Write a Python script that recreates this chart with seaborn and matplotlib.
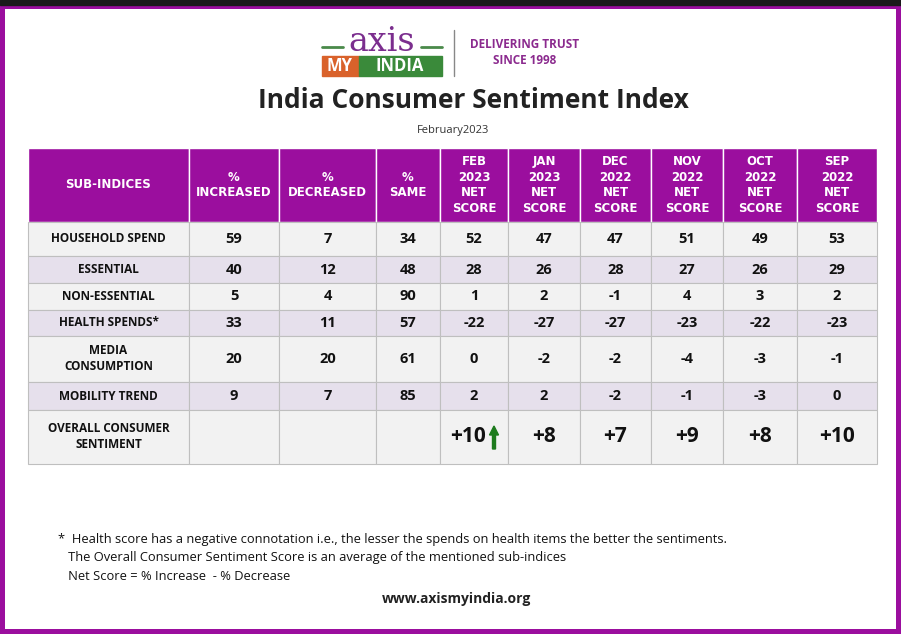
import matplotlib
matplotlib.use("Agg")
import matplotlib.pyplot as plt
import seaborn as sns
from matplotlib.patches import Rectangle, FancyArrow

sns.set_style("white")
plt.rcParams['font.family'] = ['Open Sans', 'DejaVu Sans']

headers = ["SUB-INDICES", "%\nINCREASED", "%\nDECREASED", "%\nSAME",
           "FEB\n2023\nNET\nSCORE", "JAN\n2023\nNET\nSCORE", "DEC\n2022\nNET\nSCORE",
           "NOV\n2022\nNET\nSCORE", "OCT\n2022\nNET\nSCORE", "SEP\n2022\nNET\nSCORE"]
sub_indices = ["HOUSEHOLD SPEND", "ESSENTIAL", "NON-ESSENTIAL", "HEALTH SPENDS*",
               "MEDIA\nCONSUMPTION", "MOBILITY TREND", "OVERALL CONSUMER\nSENTIMENT"]
increased = [59, 40, 5, 33, 20, 9, None]
decreased = [7, 12, 4, 11, 20, 7, None]
same = [34, 48, 90, 57, 61, 85, None]
feb23 = [52, 28, 1, -22, 0, 2, "+10"]
jan23 = [47, 26, 2, -27, -2, 2, "+8"]
dec22 = [47, 28, -1, -27, -2, -2, "+7"]
nov22 = [51, 27, 4, -23, -4, -1, "+9"]
oct22 = [49, 26, 3, -22, -3, -3, "+8"]
sep22 = [53, 29, 2, -23, -1, 0, "+10"]
columns = [increased, decreased, same, feb23, jan23, dec22, nov22, oct22, sep22]

W, H = 901, 634
fig = plt.figure(figsize=(W/100, H/100), dpi=100)
ax = fig.add_axes([0, 0, 1, 1])
ax.set_xlim(0, W); ax.set_ylim(H, 0); ax.axis("off")

PURPLE = "#9B0E9E"
# frame
ax.add_patch(Rectangle((0, 0), W, H, color=PURPLE))
ax.add_patch(Rectangle((0, 0), W, 5, color="#1a1a1a"))
ax.add_patch(Rectangle((5, 9), W-10, H-14, facecolor="white", edgecolor="none"))

# logo
ax.text(382, 42, "axis", ha="center", va="center", fontsize=24, color="#7B2E8E", family="DejaVu Serif")
ax.plot([322, 343], [47, 47], color="#4a8a4a", lw=2)
ax.plot([421, 442], [47, 47], color="#4a8a4a", lw=2)
ax.add_patch(Rectangle((322, 56), 37, 20, color="#D9622B"))
ax.add_patch(Rectangle((359, 56), 83, 20, color="#3A8A3A"))
ax.text(340, 66, "MY", ha="center", va="center", fontsize=12, color="white", weight="bold")
ax.text(400, 66, "INDIA", ha="center", va="center", fontsize=12, color="white", weight="bold")
ax.plot([454, 454], [30, 76], color="#888888", lw=1)
ax.text(525, 44, "DELIVERING TRUST", ha="center", va="center", fontsize=8.5, color="#8B2A8E", weight="bold")
ax.text(525, 61, "SINCE 1998", ha="center", va="center", fontsize=8.5, color="#8B2A8E", weight="bold")

ax.text(473, 101, "India Consumer Sentiment Index", ha="center", va="center", fontsize=19,
        weight="bold", color="#222222")
ax.text(453, 131, "February2023", ha="center", va="center", fontsize=8, color="#333333")

xs = [28, 189, 279, 376, 440, 508, 580, 651, 723, 797, 877]
ys = [148, 222, 256, 283, 310, 336, 382, 410, 464]
row_bg = ["#F2F2F2", "#E6E0EC", "#F2F2F2", "#E6E0EC", "#F2F2F2", "#E6E0EC", "#F2F2F2"]

for j, h in enumerate(headers):
    ax.add_patch(Rectangle((xs[j], ys[0]), xs[j+1]-xs[j], ys[1]-ys[0], facecolor=PURPLE,
                           edgecolor="white", lw=1))
    ax.text((xs[j]+xs[j+1])/2, (ys[0]+ys[1])/2, h, ha="center", va="center", color="white",
            fontsize=8.5, weight="bold", linespacing=1.25, family=["Liberation Sans Narrow", "DejaVu Sans"])

for i, name in enumerate(sub_indices):
    y0, y1 = ys[i+1], ys[i+2]
    cy = (y0+y1)/2
    for j in range(10):
        ax.add_patch(Rectangle((xs[j], y0), xs[j+1]-xs[j], y1-y0, facecolor=row_bg[i],
                               edgecolor="#BFBFBF", lw=0.8))
    ax.text((xs[0]+xs[1])/2, cy, name, ha="center", va="center", fontsize=8.5, weight="bold",
            color="#111111", linespacing=1.3)
    last = i == len(sub_indices)-1
    for j, col in enumerate(columns):
        v = col[i]
        if v is None:
            continue
        cx = (xs[j+1]+xs[j+2])/2
        if last and j == 3:
            cx -= 6
        ax.text(cx, cy, str(v), ha="center", va="center",
                fontsize=15 if last else 10.5, weight="bold", color="#111111")
    if last:
        ax.add_patch(FancyArrow(494, 449, 0, -23, width=3, head_width=9, head_length=9,
                                color="#1E7B1E", length_includes_head=True))

notes = ["*  Health score has a negative connotation i.e., the lesser the spends on health items the better the sentiments.",
         "   The Overall Consumer Sentiment Score is an average of the mentioned sub-indices",
         "   Net Score = % Increase  - % Decrease"]
for k, t in enumerate(notes):
    ax.text(58, 540 + k*18, t, ha="left", va="center", fontsize=9.3, color="#111111")
ax.text(456, 599, "www.axismyindia.org", ha="center", va="center", fontsize=10, weight="bold", color="#222222")

fig.savefig("out.png", dpi=100)
